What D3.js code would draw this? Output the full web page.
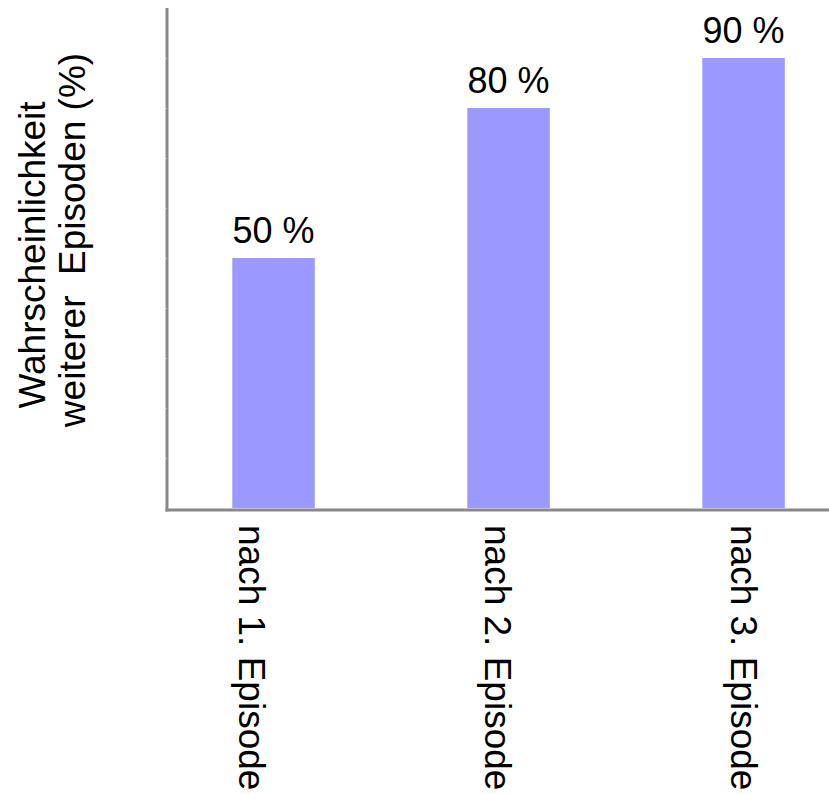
<!DOCTYPE html>
<html>
<head>
<meta charset="utf-8">
<script src="https://cdn.jsdelivr.net/npm/d3@7"></script>
<style>
  html, body { margin: 0; padding: 0; background: #fff; }
  svg { display: block; font-family: "Liberation Sans", Arial, sans-serif; }
</style>
</head>
<body>
<svg id="chart" width="829" height="794"></svg>
<script>
const categories = ["nach 1. Episode", "nach 2. Episode", "nach 3. Episode"];
const values = [50, 80, 90];
const valueLabels = ["50 %", "80 %", "90 %"];
const yTickValues = [10, 20, 30, 40, 50, 60, 70, 80, 90];
const yTitleLines = ["Wahrscheinlichkeit", "weiterer  Episoden (%)"];

const svg = d3.select("#chart");
const axisX = 167, axisY = 510;

const x = d3.scaleBand()
  .domain(categories)
  .range([166, 829])
  .paddingInner(0.649)
  .paddingOuter(0.235)
  .align(0.6);

// label positions along the x axis
const xLabel = d3.scalePoint().domain(categories).range([250, 742]);

const y = d3.scaleLinear().domain([0, 100]).range([508, 8]);

// bars
svg.selectAll("rect.bar")
  .data(values)
  .join("rect")
  .attr("class", "bar")
  .attr("x", (d, i) => x(categories[i]))
  .attr("width", x.bandwidth())
  .attr("y", d => y(d))
  .attr("height", d => y(0) - y(d))
  .attr("fill", "#9999ff");

// value labels
svg.selectAll("text.val")
  .data(values)
  .join("text")
  .attr("class", "val")
  .attr("x", (d, i) => x(categories[i]) + x.bandwidth() / 2)
  .attr("y", d => y(d) - 15)
  .attr("text-anchor", "middle")
  .attr("font-size", 36)
  .attr("fill", "#000")
  .text((d, i) => valueLabels[i]);

// axes lines
svg.append("line")
  .attr("x1", axisX).attr("x2", axisX)
  .attr("y1", y(100)).attr("y2", axisY + 1.5)
  .attr("stroke", "#888").attr("stroke-width", 3);
svg.append("line")
  .attr("x1", axisX - 1.5).attr("x2", 829)
  .attr("y1", axisY).attr("y2", axisY)
  .attr("stroke", "#888").attr("stroke-width", 3);

// faint tick notches on the y axis
const yAxis = d3.axisLeft(y).tickValues(yTickValues).tickSize(2).tickFormat("");
const gy = svg.append("g").attr("transform", `translate(${axisX - 0.5},0)`).call(yAxis);
gy.select(".domain").remove();
gy.selectAll(".tick line").attr("stroke", "#ddd").attr("stroke-width", 1);

// category labels (rotated, reading downward)
svg.selectAll("text.cat")
  .data(categories)
  .join("text")
  .attr("class", "cat")
  .attr("transform", d => `translate(${xLabel(d) - 11},525) rotate(90)`)
  .attr("text-anchor", "start")
  .attr("font-size", 37)
  .attr("fill", "#000")
  .text(d => d);

// y-axis title (two lines, rotated)
const titlePos = [{bx: 45, cy: 255}, {bx: 85, cy: 240}];
svg.selectAll("text.ytitle")
  .data(yTitleLines)
  .join("text")
  .attr("class", "ytitle")
  .attr("transform", (d, i) => `translate(${titlePos[i].bx},${titlePos[i].cy}) rotate(-90)`)
  .attr("text-anchor", "middle")
  .attr("font-size", 37)
  .attr("fill", "#000")
  .style("white-space", "pre")
  .text(d => d);
</script>
</body>
</html>
